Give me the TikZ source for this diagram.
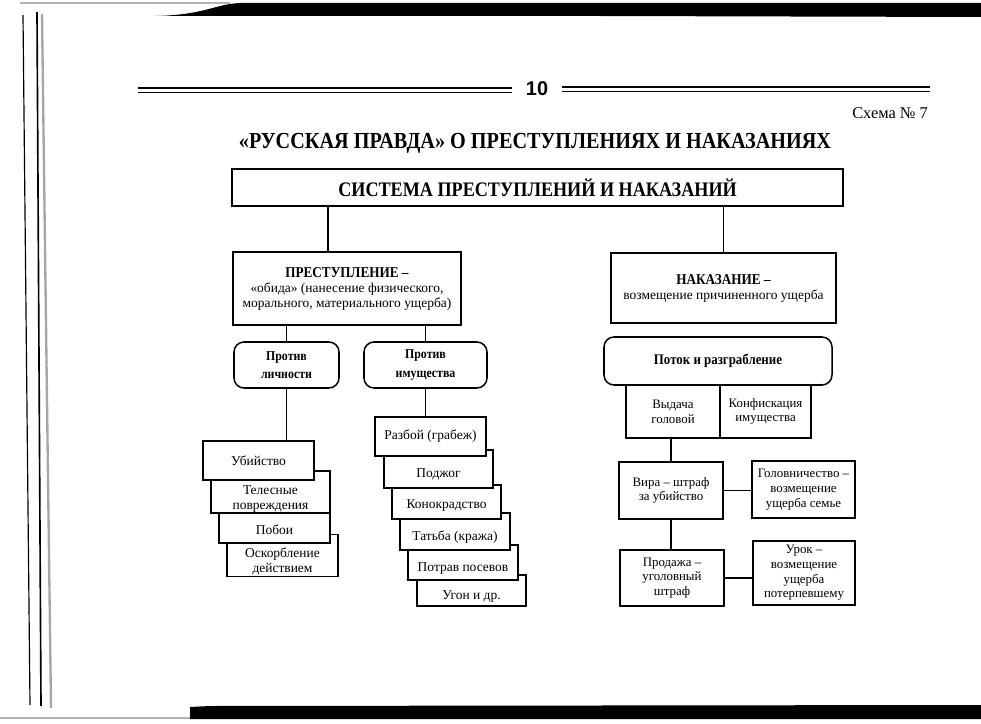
\documentclass[tikz,border=0pt]{standalone}
\usepackage{fontspec}
\setmainfont{Liberation Serif}
\newfontfamily\narrowfont{Liberation Serif}[FakeStretch=0.88]
\newfontfamily\numfont{Liberation Sans}
\newcommand\down[1]{\rule{0pt}{#1}}

\begin{document}
\begin{tikzpicture}[x=0.3mm, y=-0.3mm,
  box/.style={draw, line width=1.3pt, fill=white, inner sep=1pt, align=center,
    font=\fontsize{11.5}{12.8}\selectfont},
  pbox/.style={box, font=\fontsize{11}{12.6}\selectfont},
  headbox/.style={box, font=\narrowfont\bfseries\fontsize{17.6}{19}\selectfont},
  rbox/.style={box, rounded corners=3mm, font=\narrowfont\bfseries\fontsize{11.5}{15.5}\selectfont},
  link/.style={line width=1.2pt}]

\useasboundingbox (0,0) rectangle (981,724);

% scan edges
\fill[gray!60] (20,2) rectangle (230,4);
\fill (155,16) .. controls (205,15) and (215,4) .. (240,3) -- (981,3) -- (981,17) -- (600,16) -- cycle;
\fill (190,707) .. controls (200,706) .. (210,706) -- (981,705) -- (981,719) -- (190,719) -- cycle;
\fill[gray!60] (0,717) rectangle (190,719);
\draw[line width=1pt] (23,15) -- (30,705);
\draw[line width=1.4pt] (37,12) -- (41,706);
\draw[line width=2pt, gray!70] (42,14) -- (51,708);

% page header
\draw[line width=2pt] (138,88) -- (512,88);
\draw[line width=0.6pt] (138,92) -- (512,92);
\draw[line width=2pt] (562,87) -- (930,87);
\draw[line width=0.6pt] (562,91) -- (930,91);
\node[font=\numfont\bfseries\fontsize{17}{17}\selectfont] (pagenum) at (537,89) {10};
\node[anchor=east, font=\fontsize{14}{14}\selectfont] (schema) at (932,113) {Схема №~7};
\node[font=\narrowfont\bfseries\fontsize{19.6}{20}\selectfont] (title) at (535,143)
  {«РУССКАЯ ПРАВДА» О ПРЕСТУПЛЕНИЯХ И НАКАЗАНИЯХ};

% top level
\node[headbox, minimum width=183.3mm, minimum height=11.1mm] (sys) at (537.5,187.5)
  {СИСТЕМА ПРЕСТУПЛЕНИЙ И НАКАЗАНИЙ};
\node[box, minimum width=68.4mm, minimum height=21.9mm] (crime) at (347,288.5)
  {\textbf{\narrowfont\fontsize{12.8}{14}\selectfont ПРЕСТУПЛЕНИЕ –}\\«обида» (нанесение физического,\\морального, материального ущерба)};
\node[box, minimum width=67.5mm, minimum height=21mm] (pun) at (723.5,288)
  {\textbf{\narrowfont\fontsize{12.8}{15}\selectfont НАКАЗАНИЕ –}\\возмещение причиненного ущерба};

\draw[link] ([xshift=-5.7mm]crime.north) -- ([xshift=-5.7mm]crime.north |- sys.south);
\draw[link] (pun.north) -- (pun.north |- sys.south);

% crimes
\node[rbox, minimum width=31.5mm, minimum height=13.8mm] (person) at (286.5,365) {Против\\личности};
\node[rbox, minimum width=36.9mm, minimum height=13.8mm] (goods) at (425.5,365) {Против\\имущества};
\draw[link] (person.north) -- (person.north |- crime.south);
\draw[link] (goods.north) -- (goods.north |- crime.south);

\node[box, minimum width=33.3mm, minimum height=12.3mm] (insult) at (282.5,555.5) {\down{19pt}Оскорбление\\действием};
\node[box, minimum width=33.3mm, minimum height=12mm] (beat) at (274.5,523) {\down{19pt}Побои};
\node[box, minimum width=35.7mm, minimum height=12mm] (injury) at (270.5,492) {\down{19pt}Телесные\\повреждения};
\node[box, minimum width=33.3mm, minimum height=11.7mm] (murder) at (258.5,460.5) {Убийство};
\draw[link] (person.south) -- (person.south |- murder.north);

\node[box, minimum width=32.7mm, minimum height=9.3mm] (theft6) at (471.5,590.5) {\down{17pt}Угон и др.};
\node[box, minimum width=33mm, minimum height=10.5mm] (theft5) at (463,562.5) {\down{17pt}Потрав посевов};
\node[box, minimum width=33mm, minimum height=11.1mm] (theft4) at (455,531.5) {\down{17pt}Татьба (кража)};
\node[box, minimum width=32.7mm, minimum height=10.2mm] (theft3) at (446.5,502) {\down{14pt}Конокрадство};
\node[box, minimum width=32.7mm, minimum height=11.4mm] (theft2) at (438.5,469) {\down{17pt}Поджог};
\node[box, minimum width=33.3mm, minimum height=11.7mm] (theft1) at (430.5,436.5) {Разбой (грабеж)};
\draw[link] (goods.south) -- (goods.south |- theft1.north);

% punishments
\node[rbox, minimum width=68.4mm, minimum height=14.4mm, font=\narrowfont\bfseries\fontsize{12.5}{14}\selectfont] (plunder) at (718,361) {Поток и разграбление};
\node[pbox, minimum width=28.2mm, minimum height=15.9mm] (extradite) at (673,411.5) {Выдача\\головой};
\node[pbox, minimum width=27.3mm, minimum height=15.9mm] (confisc) at (765.5,411.5) {Конфискация\\имущества};
\node[pbox, minimum width=31.2mm, minimum height=17.1mm] (vira) at (671,490.5) {Вира – штраф\\за убийство};
\node[pbox, minimum width=30.9mm, minimum height=17.1mm] (golov) at (803.5,489.5) {Головничество –\\возмещение\\ущерба семье};
\node[pbox, minimum width=31.2mm, minimum height=16.8mm] (sale) at (672,578) {Продажа –\\уголовный\\штраф};
\node[pbox, minimum width=30.6mm, minimum height=19.2mm] (urok) at (804,573) {Урок –\\возмещение\\ущерба\\потерпевшему};

\draw[link] (vira.north) -- (vira.north |- extradite.south);
\draw[link] (vira.east) -- (vira.east -| golov.west);
\draw[link] (vira.south) -- (vira.south |- sale.north);
\draw[link] (sale.east) -- (sale.east -| urok.west);

\end{tikzpicture}
\end{document}
